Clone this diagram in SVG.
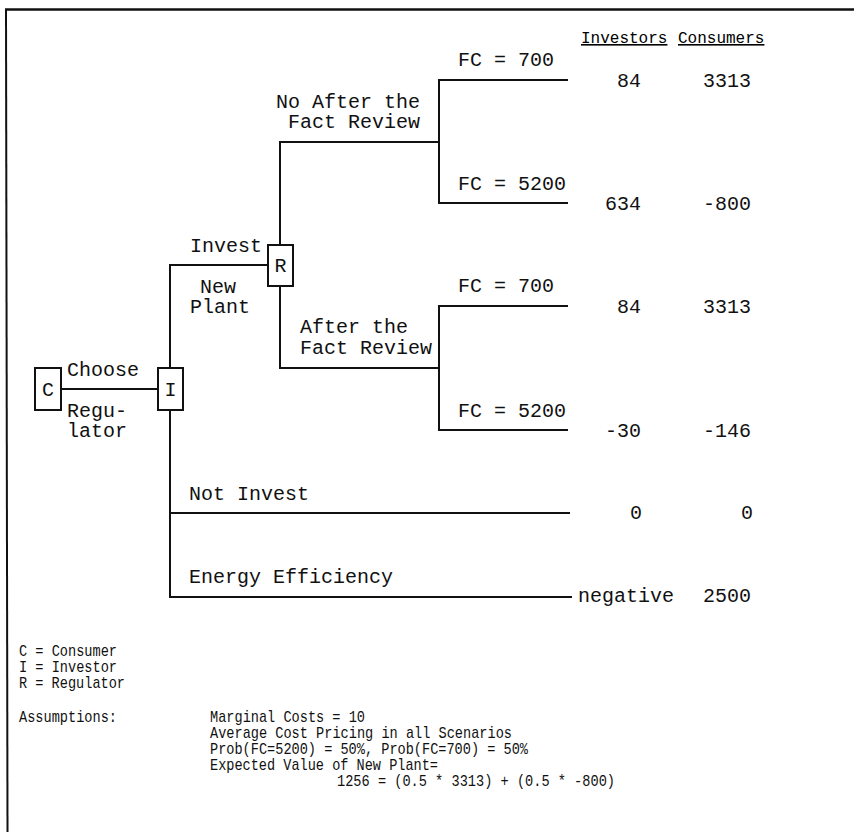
<svg xmlns="http://www.w3.org/2000/svg" width="854" height="832" viewBox="0 0 854 832">
<style>
.t{font-family:"Liberation Mono","Courier New",monospace;font-size:20px;fill:#111}
.n{font-family:"Liberation Mono","Courier New",monospace;font-size:20px;fill:#111}
.h{font-family:"Liberation Mono","Courier New",monospace;font-size:16px;fill:#000;text-decoration:underline}
.lg{font-family:"Liberation Mono","Courier New",monospace;font-size:17px;fill:#111}
.box{fill:#fff;stroke:#111;stroke-width:2}
.ln{stroke:#111;stroke-width:2;fill:none}
.bd{stroke:#111;fill:none}
</style>
<rect x="0" y="0" width="854" height="832" fill="#fff"/>
<g id="frame">
<line class="bd" x1="5" y1="9.5" x2="854" y2="9.5" stroke-width="2.5"/>
<line class="bd" x1="6" y1="9" x2="7.5" y2="832" stroke-width="2"/>
</g>
<g id="connectors">
<line class="ln" x1="61" y1="389" x2="158" y2="389"/>
<line class="ln" x1="170" y1="265" x2="170" y2="368"/>
<line class="ln" x1="170" y1="410" x2="170" y2="597"/>
<line class="ln" x1="169" y1="265" x2="268" y2="265"/>
<line class="ln" x1="280" y1="142" x2="280" y2="245"/>
<line class="ln" x1="280" y1="286" x2="280" y2="368"/>
<line class="ln" x1="279" y1="142" x2="439" y2="142"/>
<line class="ln" x1="279" y1="368" x2="439" y2="368"/>
<line class="ln" x1="439" y1="79" x2="439" y2="204"/>
<line class="ln" x1="439" y1="305" x2="439" y2="431"/>
<line class="ln" x1="438" y1="80" x2="568" y2="80"/>
<line class="ln" x1="438" y1="203" x2="568" y2="203"/>
<line class="ln" x1="438" y1="306" x2="568" y2="306"/>
<line class="ln" x1="438" y1="430" x2="568" y2="430"/>
<line class="ln" x1="169" y1="513" x2="570" y2="513"/>
<line class="ln" x1="169" y1="597" x2="572" y2="597"/>
</g>
<g id="node-C">
<rect class="box" x="35" y="368" width="26" height="42"/>
<text class="t" x="48" y="396" text-anchor="middle">C</text>
</g>
<g id="node-I">
<rect class="box" x="158" y="368" width="25" height="42"/>
<text class="t" x="170.5" y="396" text-anchor="middle">I</text>
</g>
<g id="node-R">
<rect class="box" x="268" y="245" width="25" height="41"/>
<text class="t" x="280.5" y="272" text-anchor="middle">R</text>
</g>
<g id="branch-labels">
<text class="t" x="67" y="376">Choose</text>
<text class="t" x="67" y="417">Regu-</text>
<text class="t" x="67" y="437">lator</text>
<text class="t" x="190" y="252">Invest</text>
<text class="t" x="200" y="293">New</text>
<text class="t" x="190" y="313">Plant</text>
<text class="t" x="420" y="108" text-anchor="end">No After the</text>
<text class="t" x="420" y="128" text-anchor="end">Fact Review</text>
<text class="t" x="300" y="333">After the</text>
<text class="t" x="300" y="354">Fact Review</text>
<text class="t" x="458" y="66">FC = 700</text>
<text class="t" x="458" y="190">FC = 5200</text>
<text class="t" x="458" y="292">FC = 700</text>
<text class="t" x="458" y="417">FC = 5200</text>
<text class="t" x="189" y="500">Not Invest</text>
<text class="t" x="189" y="583">Energy Efficiency</text>
</g>
<g id="payoffs">
<text class="h" x="581" y="43">Investors</text>
<text class="h" x="678" y="43">Consumers</text>
<text class="n" x="641" y="87" text-anchor="end">84</text>
<text class="n" x="751" y="87" text-anchor="end">3313</text>
<text class="n" x="641" y="210" text-anchor="end">634</text>
<text class="n" x="751" y="210" text-anchor="end">-800</text>
<text class="n" x="641" y="313" text-anchor="end">84</text>
<text class="n" x="751" y="313" text-anchor="end">3313</text>
<text class="n" x="641" y="437" text-anchor="end">-30</text>
<text class="n" x="751" y="437" text-anchor="end">-146</text>
<text class="n" x="642" y="519" text-anchor="end">0</text>
<text class="n" x="753" y="519" text-anchor="end">0</text>
<text class="n" x="578" y="602">negative</text>
<text class="n" x="751" y="602" text-anchor="end">2500</text>
</g>
<g id="legend">
<text class="lg" x="19" y="656" textLength="98" lengthAdjust="spacingAndGlyphs">C = Consumer</text>
<text class="lg" x="19" y="672" textLength="98" lengthAdjust="spacingAndGlyphs">I = Investor</text>
<text class="lg" x="19" y="688" textLength="106" lengthAdjust="spacingAndGlyphs">R = Regulator</text>
<text class="lg" x="19" y="722" textLength="98" lengthAdjust="spacingAndGlyphs">Assumptions:</text>
<text class="lg" x="210" y="722" textLength="155" lengthAdjust="spacingAndGlyphs">Marginal Costs = 10</text>
<text class="lg" x="210" y="738" textLength="302" lengthAdjust="spacingAndGlyphs">Average Cost Pricing in all Scenarios</text>
<text class="lg" x="210" y="754" textLength="318" lengthAdjust="spacingAndGlyphs">Prob(FC=5200) = 50%, Prob(FC=700) = 50%</text>
<text class="lg" x="210" y="770" textLength="228" lengthAdjust="spacingAndGlyphs">Expected Value of New Plant=</text>
<text class="lg" x="337" y="786" textLength="278" lengthAdjust="spacingAndGlyphs">1256 = (0.5 * 3313) + (0.5 * -800)</text>
</g>
</svg>
